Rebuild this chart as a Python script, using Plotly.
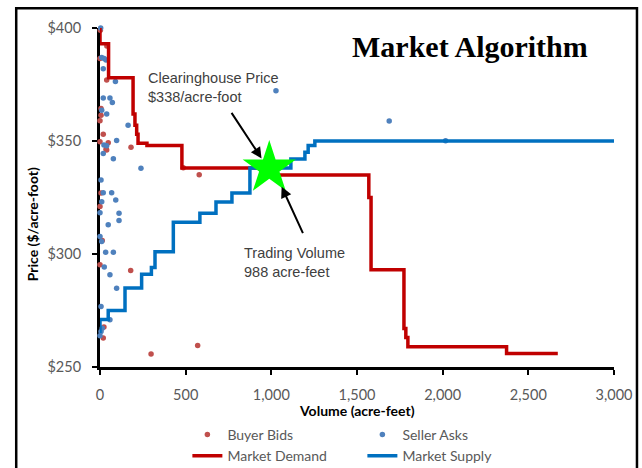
import plotly.graph_objects as go

# ---- data ----
bid_volume = [2, 40, 0, 39, 6, 6, 0, 19, 0, 35, 48, 39, 181, 486, 579, 6, 0, 13, 0, 179, 23, 19, 298, 570]
bid_price = [399, 392, 386.5, 377, 364.4, 361.4, 359, 353, 349.7, 346.3, 349.2, 346, 347.2, 338.2, 335.1, 327, 321, 306, 295.2, 292.7, 267.7, 262.8, 255.7, 259.5]

ask_volume = [4, 10, 24, 35, 19, 90, 19, 58, 72, 10, 39, 164, 97, 23, 39, 19, 78, 239, 1027, 1688, 2017,
              6, 19, 68, 92, 10, 0, 111, 111, 48, 0, 10, 33, 78, 25, 58, 97, 6, 58, 13, 6, 0]
ask_price = [400, 387, 386.5, 385.8, 382, 376.3, 369, 369, 367, 363.6, 362, 357, 350.2, 348.2, 347.9, 344.5, 342.2, 337.9, 372.2, 358.9, 350.1,
             332.7, 327.1, 327.1, 323.9, 323.1, 318.3, 318, 314.8, 312.9, 307.7, 305.5, 300.8, 300.8, 294.2, 290.8, 284.9, 276.8, 270.9, 267.2, 265.7, 263.8]

demand_volume = [0, 0, 50, 193, 204, 214, 222, 274, 478, 988, 1569, 1582, 1774, 1785, 1797, 2373, 2672]
demand_price = [400, 393, 378, 362, 357, 353, 349, 348, 338, 335, 325, 293, 267, 263, 259, 256, 256]

supply_volume = [0, 0, 48, 146, 243, 300, 321, 428, 583, 677, 770, 875, 1114, 1196, 1215, 1254, 3000]
supply_price = [265, 271, 275, 285, 291, 294, 301, 314, 318, 323, 327, 338, 342, 345, 348, 350, 350]

clearing_volume = [988]
clearing_price = [338]

x_ticks = [0, 500, 1000, 1500, 2000, 2500, 3000]
x_tick_labels = ["0", "500", "1,000", "1,500", "2,000", "2,500", "3,000"]
y_ticks = [250, 300, 350, 400]
y_tick_labels = ["$250", "$300", "$350", "$400"]

SANS = "Liberation Sans, Arial, sans-serif"
CAL = "Lato, Liberation Sans, sans-serif"

fig = go.Figure()
fig.add_trace(go.Scatter(x=bid_volume, y=bid_price, mode="markers", name="Buyer Bids",
                         marker=dict(color="#C0504D", size=5.5), cliponaxis=False))
fig.add_trace(go.Scatter(x=ask_volume, y=ask_price, mode="markers", name="Seller Asks",
                         marker=dict(color="#4F81BD", size=5.5), cliponaxis=False))
fig.add_trace(go.Scatter(x=demand_volume, y=demand_price, mode="lines", name="Market Demand",
                         line=dict(color="#C00000", width=3.5, shape="hv"), cliponaxis=False))
fig.add_trace(go.Scatter(x=supply_volume, y=supply_price, mode="lines", name="Market Supply",
                         line=dict(color="#0070C0", width=3.5, shape="hv"), cliponaxis=False))
fig.add_trace(go.Scatter(x=clearing_volume, y=clearing_price, mode="markers", showlegend=False,
                         marker=dict(symbol="star", color="#00FF00", size=40, line=dict(width=0)),
                         cliponaxis=False))

fig.update_xaxes(range=[0, 3000], tickvals=x_ticks, ticktext=x_tick_labels,
                 showline=True, linecolor="black", linewidth=3, ticks="outside",
                 ticklen=5, tickwidth=2, tickcolor="black", showgrid=False, zeroline=False,
                 tickfont=dict(family=CAL, size=14.5, color="#595959"), ticklabelstandoff=8,
                 layer="below traces", automargin=False)
fig.update_yaxes(range=[250, 400], tickvals=y_ticks, ticktext=y_tick_labels,
                 showline=True, linecolor="black", linewidth=3, ticks="outside",
                 ticklen=5, tickwidth=2, tickcolor="black", showgrid=False, zeroline=False,
                 tickfont=dict(family=CAL, size=14.5, color="#595959"), ticklabelstandoff=8,
                 layer="below traces", automargin=False)

annotations = [
    dict(text="<b>Market Algorithm</b>", x=0.72, y=0.945, xref="paper", yref="paper",
         xanchor="center", yanchor="middle", showarrow=False,
         font=dict(family="Liberation Serif, Times New Roman, serif", size=30, color="black")),
    dict(text="<b>Volume (acre-feet)</b>", x=0.5, y=-0.128, xref="paper", yref="paper",
         xanchor="center", yanchor="middle", showarrow=False,
         font=dict(family=CAL, size=14, color="black")),
    dict(text="<b>Price ($/acre-foot)</b>", x=-0.131, y=0.42, xref="paper", yref="paper", textangle=-90,
         xanchor="center", yanchor="middle", showarrow=False, font=dict(family=CAL, size=14, color="black")),
    dict(text="Clearinghouse Price<br>$338/acre-foot", x=0.09, y=0.825, xref="paper", yref="paper",
         xanchor="left", yanchor="middle", align="left", showarrow=False,
         font=dict(family=SANS, size=14.5, color="#404040")),
    dict(text="Trading Volume<br>988 acre-feet", x=0.277, y=0.308, xref="paper", yref="paper",
         xanchor="left", yanchor="middle", align="left", showarrow=False,
         font=dict(family=SANS, size=14.5, color="#404040")),
    dict(text="", x=943, y=342.3, ax=-31, ay=-47, showarrow=True, arrowhead=2, arrowsize=1.1,
         arrowwidth=2, arrowcolor="black"),
    dict(text="", x=1060, y=329.8, ax=22, ay=48, showarrow=True, arrowhead=2, arrowsize=1.1,
         arrowwidth=2, arrowcolor="black"),
]

fig.update_layout(
    width=642, height=468,
    margin=dict(l=100, r=28, t=28, b=101, autoexpand=False),
    plot_bgcolor="white", paper_bgcolor="white",
    annotations=annotations,
    shapes=[dict(type="rect", xref="paper", yref="paper", x0=-0.163, x1=1.0447, y0=-0.5, y1=1.058,
                 line=dict(color="black", width=2.5), layer="below")],
    legend=dict(orientation="h", x=0.17, xanchor="left", y=-0.153, yanchor="top",
                entrywidth=130, font=dict(family=CAL, size=14, color="#595959"),
                bgcolor="rgba(0,0,0,0)", itemwidth=30, tracegroupgap=0),
    showlegend=True,
)

fig.write_html("out.html", config={"displayModeBar": False},
               post_script="document.body.style.margin='0';document.body.style.overflow='hidden';")
